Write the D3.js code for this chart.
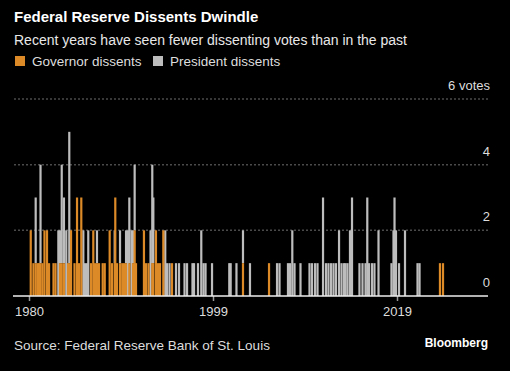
<!DOCTYPE html>
<html>
<head>
<meta charset="utf-8">
<script src="https://cdn.jsdelivr.net/npm/d3@7"></script>
<style>
  body { margin: 0; background: #000; }
  svg { display: block; font-family: "Liberation Sans", Arial, sans-serif; }
</style>
</head>
<body>
<div id="chart"></div>
<script>
// Reuniones con disidencias (año decimal) y votos disidentes
const meetingYears = [
  1980.18, 1980.46, 1980.69, 1980.88, 1981.03, 1981.19, 1981.39, 1981.60, 1981.86, 1982.07,
  1982.53, 1982.74, 1983.03, 1983.20, 1983.38, 1983.61, 1983.85, 1984.03, 1984.16, 1984.34,
  1984.70, 1984.96, 1985.16, 1985.40, 1985.61, 1985.78, 1986.00, 1986.12, 1986.40, 1986.64,
  1986.82, 1987.02, 1987.23, 1987.61, 1987.82, 1988.33, 1988.57, 1988.85, 1988.91, 1989.09,
  1989.40, 1989.63, 1989.81, 1990.02, 1990.22, 1990.36, 1990.58, 1990.74, 1990.91, 1991.05,
  1991.87, 1992.08, 1992.34, 1992.55, 1992.73, 1992.84, 1993.11, 1993.32, 1993.53, 1993.87,
  1994.07, 1994.25, 1994.51, 1994.77, 1995.18, 1995.49, 1996.06, 1996.32, 1996.88, 1997.04,
  1997.45, 1997.79, 1998.02, 1998.23, 1998.90,
  2000.77, 2000.92, 2001.55, 2002.26, 2003.02, 2005.09, 2005.96, 2006.23, 2007.15, 2007.37,
  2007.62, 2007.86, 2008.51, 2009.49, 2009.76, 2010.09, 2010.36, 2010.96, 2011.28, 2011.55,
  2011.83, 2012.10, 2012.37, 2012.70, 2012.97, 2013.24, 2013.40, 2013.62, 2013.89, 2014.11,
  2014.92, 2015.25, 2015.58, 2015.77, 2015.96, 2016.28, 2016.55, 2016.99, 2018.40, 2018.62,
  2018.73, 2018.89, 2019.22, 2019.87, 2021.23, 2021.45, 2023.67, 2024.00
];
const governorVotes = [
  2, 1, 1, 1, 1, 1, 1, 2, 2, 1,
  1, 1, 0, 1, 1, 1, 0, 1, 1, 2,
  1, 3, 1, 3, 0, 0, 0, 0, 1, 2,
  1, 1, 1, 1, 1, 2, 1, 1, 3, 1,
  1, 1, 1, 1, 0, 1, 0, 1, 2, 1,
  2, 1, 1, 0, 1, 1, 2, 1, 1, 2,
  0, 0, 0, 1, 0, 0, 0, 0, 0, 0,
  0, 0, 0, 0, 0,
  0, 0, 0, 1, 0, 1, 0, 0, 0, 0,
  0, 0, 0, 0, 0, 0, 0, 0, 0, 0,
  0, 0, 0, 0, 0, 0, 0, 0, 0, 0,
  0, 0, 0, 0, 0, 0, 0, 0, 0, 0,
  0, 0, 0, 0, 0, 0, 1, 1
];
const presidentVotes = [
  0, 0, 2, 0, 0, 3, 0, 0, 0, 0,
  0, 0, 2, 1, 3, 2, 2, 0, 4, 0,
  0, 0, 0, 0, 2, 1, 1, 2, 0, 0,
  0, 1, 0, 0, 0, 0, 0, 1, 0, 0,
  1, 0, 0, 1, 2, 2, 2, 1, 2, 0,
  0, 0, 0, 2, 3, 2, 0, 0, 0, 0,
  2, 1, 1, 0, 1, 1, 1, 1, 1, 1,
  1, 2, 1, 1, 1,
  1, 1, 1, 1, 1, 0, 1, 1, 1, 1,
  2, 1, 1, 1, 1, 1, 1, 3, 1, 1,
  1, 1, 1, 2, 1, 1, 1, 1, 2, 3,
  1, 1, 1, 3, 1, 1, 1, 2, 1, 2,
  3, 2, 1, 2, 1, 1, 0, 0
];
const yTicks = [0, 2, 4, 6];
const xTicks = [1980, 1999, 2019];

const width = 510;
const height = 371;

const svg = d3.select("#chart")
  .append("svg")
  .attr("width", width)
  .attr("height", height);

svg.append("rect").attr("width", width).attr("height", height).attr("fill", "#000");

// Títulos
svg.append("text")
  .attr("x", 14).attr("y", 22)
  .attr("fill", "#fff")
  .attr("font-size", "15px")
  .attr("font-weight", "bold")
  .text("Federal Reserve Dissents Dwindle");

svg.append("text")
  .attr("x", 14).attr("y", 45)
  .attr("fill", "#e8e8e8")
  .attr("font-size", "14px")
  .text("Recent years have seen fewer dissenting votes than in the past");

// Leyenda
const colorGov = "#dc8a28";
const colorPres = "#bdbdbd";
const legend = [
  { label: "Governor dissents", color: colorGov, x: 15 },
  { label: "President dissents", color: colorPres, x: 153 }
];
legend.forEach(l => {
  svg.append("rect")
    .attr("x", l.x).attr("y", 56)
    .attr("width", 10).attr("height", 10)
    .attr("fill", l.color);
  svg.append("text")
    .attr("x", l.x + 17).attr("y", 66)
    .attr("fill", "#ddd")
    .attr("font-size", "13.5px")
    .text(l.label);
});

// Escalas
const x = d3.scaleLinear()
  .domain([1980, 1999, 2019])
  .range([29, 213, 397]);

const y = d3.scaleLinear()
  .domain([0, 6])
  .range([296, 99]);

// Rejilla punteada
svg.append("g")
  .selectAll("line")
  .data(yTicks.filter(d => d > 0))
  .enter()
  .append("line")
  .attr("x1", 14).attr("x2", 490)
  .attr("y1", d => y(d)).attr("y2", d => y(d))
  .attr("stroke", "#4a4a4a")
  .attr("stroke-width", 1.5)
  .attr("stroke-dasharray", "2,2");

// Etiquetas del eje Y
svg.append("g")
  .selectAll("text")
  .data(yTicks)
  .enter()
  .append("text")
  .attr("x", 490)
  .attr("y", d => y(d) - 9)
  .attr("text-anchor", "end")
  .attr("fill", "#ddd")
  .attr("font-size", "13px")
  .text(d => d === 6 ? "6 votes" : d);

// Barras apiladas
const data = meetingYears.map((yr, i) => ({ yr, g: governorVotes[i], p: presidentVotes[i] }));
const barW = 2.2;

svg.append("g")
  .selectAll("rect")
  .data(data.filter(d => d.p > 0))
  .enter()
  .append("rect")
  .attr("x", d => x(d.yr) - barW / 2)
  .attr("width", barW)
  .attr("y", d => y(d.g + d.p))
  .attr("height", d => y(d.g) - y(d.g + d.p))
  .attr("fill", colorPres);

svg.append("g")
  .selectAll("rect")
  .data(data.filter(d => d.g > 0))
  .enter()
  .append("rect")
  .attr("x", d => x(d.yr) - barW / 2)
  .attr("width", barW)
  .attr("y", d => y(d.g))
  .attr("height", d => y(0) - y(d.g))
  .attr("fill", colorGov);

// Eje X
const xAxis = svg.append("g")
  .attr("transform", `translate(0,${y(0)})`)
  .call(d3.axisBottom(x).tickValues(xTicks).tickFormat(d3.format("d")).tickSize(5));

xAxis.select(".domain").remove();
xAxis.append("line")
  .attr("x1", 13).attr("x2", 488)
  .attr("stroke", "#eee").attr("stroke-width", 1.5);
xAxis.selectAll(".tick line").attr("stroke", "#999").attr("stroke-width", 1.5);
xAxis.selectAll(".tick text")
  .attr("fill", "#ddd")
  .attr("font-size", "13px")
  .attr("font-family", "Liberation Sans, Arial, sans-serif")
  .attr("dy", "0.9em");

// Fuente y marca
svg.append("text")
  .attr("x", 14).attr("y", 350)
  .attr("fill", "#ddd")
  .attr("font-size", "13.5px")
  .text("Source: Federal Reserve Bank of St. Louis");

svg.append("text")
  .attr("x", 488).attr("y", 347)
  .attr("text-anchor", "end")
  .attr("fill", "#fff")
  .attr("font-size", "12px")
  .attr("font-weight", "bold")
  .text("Bloomberg");
</script>
</body>
</html>
